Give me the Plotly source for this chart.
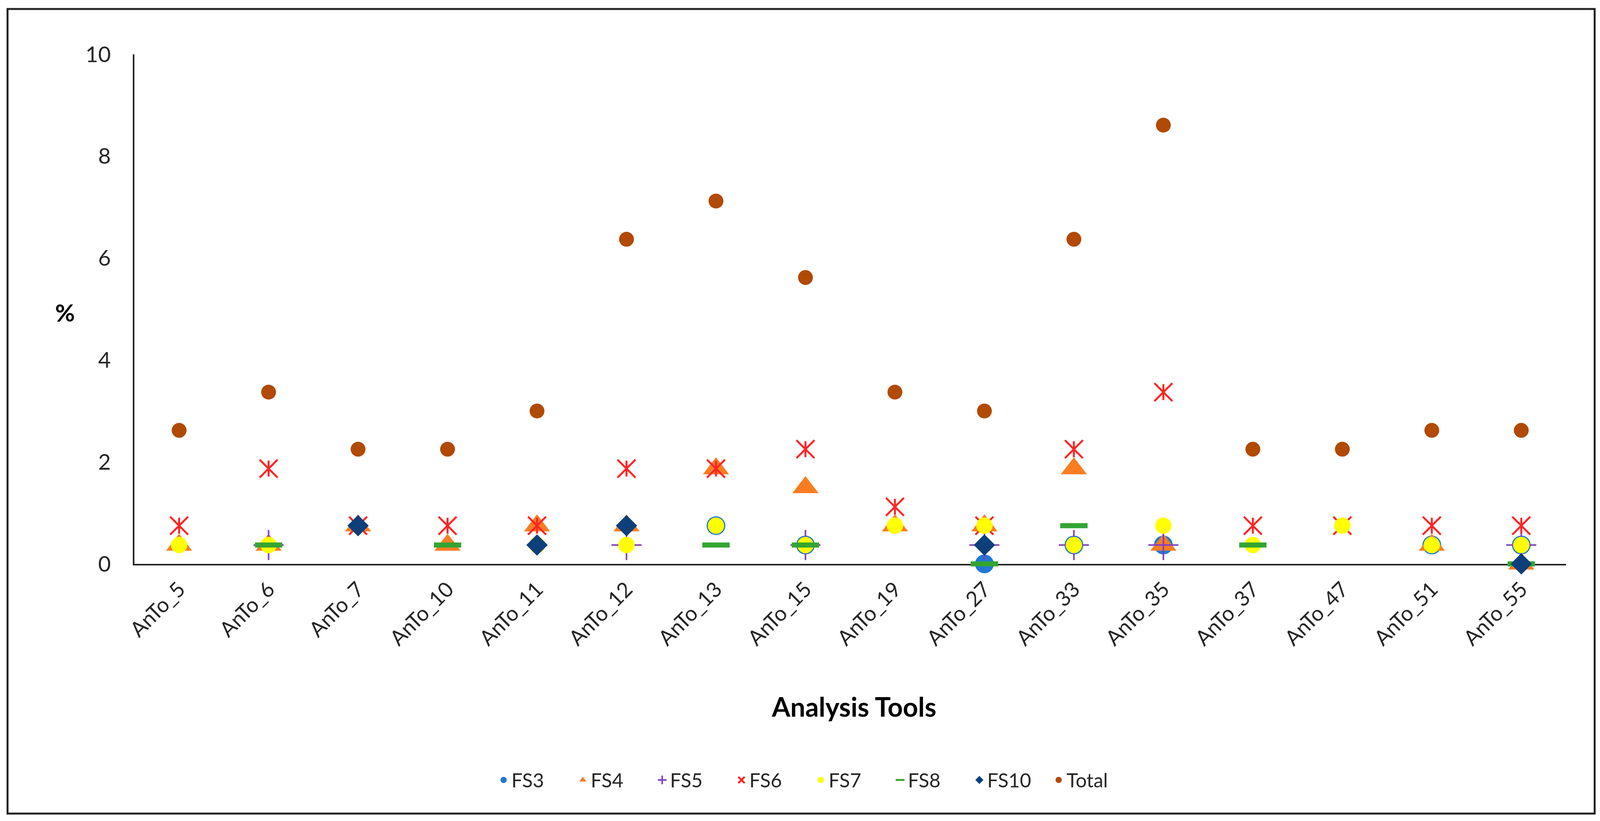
import plotly.graph_objects as go

categories = ["AnTo_5", "AnTo_6", "AnTo_7", "AnTo_10", "AnTo_11", "AnTo_12", "AnTo_13", "AnTo_15",
              "AnTo_19", "AnTo_27", "AnTo_33", "AnTo_35", "AnTo_37", "AnTo_47", "AnTo_51", "AnTo_55"]

fs3 = [None, None, None, None, None, None, 0.75, 0.37, None, 0.0, 0.37, 0.37, None, None, 0.37, 0.37]
fs4 = [0.37, 0.37, 0.75, 0.37, 0.75, 0.75, 1.87, 1.50, 0.75, 0.75, 1.87, 0.37, None, None, 0.37, 0.0]
fs5 = [None, 0.37, None, None, None, 0.37, None, 0.37, None, 0.37, 0.37, 0.37, None, None, None, 0.37]
fs6 = [0.75, 1.87, 0.75, 0.75, 0.75, 1.87, 1.87, 2.25, 1.12, 0.75, 2.25, 3.37, 0.75, 0.75, 0.75, 0.75]
fs7 = [0.37, 0.37, None, None, 0.37, 0.37, 0.75, 0.37, 0.75, 0.75, 0.37, 0.75, 0.37, 0.75, 0.37, 0.37]
fs8 = [None, 0.37, None, 0.37, None, None, 0.37, 0.37, None, 0.0, 0.75, None, 0.37, None, None, 0.0]
fs10 = [None, None, 0.75, None, 0.37, 0.75, None, None, None, 0.37, None, None, None, None, None, 0.0]
total = [2.62, 3.37, 2.25, 2.25, 3.00, 6.37, 7.12, 5.62, 3.37, 3.00, 6.37, 8.61, 2.25, 2.25, 2.62, 2.62]

FONT = "Lato"
TXT = "#262626"

fig = go.Figure()

def add(name, y, symbol, color, size, line_w=0, line_color=None, showlegend=True):
    fig.add_trace(go.Scatter(
        x=categories, y=y, name=name, mode="markers", cliponaxis=False,
        showlegend=showlegend, legendgroup=name,
        marker=dict(symbol=symbol, color=color, size=size,
                    line=dict(width=line_w, color=line_color if line_color else color)),
    ))

add("FS3", fs3, "circle", "#2178D4", 48)
add("FS4", fs4, "triangle-up", "#FA7D22", 58)
add("FS5", fs5, "cross-thin-open", "#8040C0", 55, 4)
add("FS6", fs6, "x-thin-open", "#FF2424", 46, 5)
fig.add_trace(go.Scatter(
    x=categories, y=fs6, name="FS6", mode="markers", cliponaxis=False,
    showlegend=False, legendgroup="FS6", hoverinfo="skip",
    marker=dict(symbol="line-ns-open", color="#FF2424", size=29, line=dict(width=5, color="#FF2424")),
))
add("FS7", fs7, "circle", "#FFFF00", 42)
add("FS8", fs8, "line-ew-open", "#33A532", 50, 13)
add("FS10", fs10, "diamond", "#0D3F7A", 42)
add("Total", total, "circle", "#B04A04", 38)

fig.update_layout(
    autosize=True,
    margin=dict(l=336, r=95, t=131, b=666),
    paper_bgcolor="white", plot_bgcolor="white",
    font=dict(family=FONT, color=TXT, size=54),
    showlegend=True,
    legend=dict(orientation="h", x=0.474, xanchor="center", y=-0.424, yanchor="middle",
                font=dict(family=FONT, size=50, color=TXT), itemsizing="trace",
                entrywidth=158, entrywidthmode="pixels", traceorder="normal"),
    xaxis=dict(type="category", showline=True, linecolor="#222222", linewidth=4,
               ticks="", showgrid=False, zeroline=False, tickangle=-45,
               tickfont=dict(family=FONT, size=54, color=TXT), layer="below traces",
               ticklabelstandoff=8, range=[-0.5, 15.5]),
    yaxis=dict(range=[0, 10], tickvals=[0, 2, 4, 6, 8, 10], showline=True, linecolor="#222222",
               linewidth=4, ticks="", showgrid=False, zeroline=False,
               tickfont=dict(family=FONT, size=56, color=TXT), layer="below traces",
               ticklabelstandoff=45),
    annotations=[
        dict(text="<b>Analysis Tools</b>", xref="paper", yref="paper", x=0.5027, y=-0.2795,
             xanchor="center", yanchor="middle", showarrow=False,
             font=dict(family=FONT, size=68, color="black")),
        dict(text="<b>%</b>", xref="paper", yref="paper", x=-0.0483, y=0.4938,
             xanchor="center", yanchor="middle", showarrow=False,
             font=dict(family=FONT, size=62, color="black")),
    ],
    shapes=[dict(type="rect", xref="paper", yref="paper", x0=-0.0886, x1=1.020, y0=-0.490, y1=1.089,
                 line=dict(color="#222222", width=5), fillcolor="rgba(0,0,0,0)", layer="below")],
)

fig.write_html("out.html", default_width="100vw", default_height="100vh")
